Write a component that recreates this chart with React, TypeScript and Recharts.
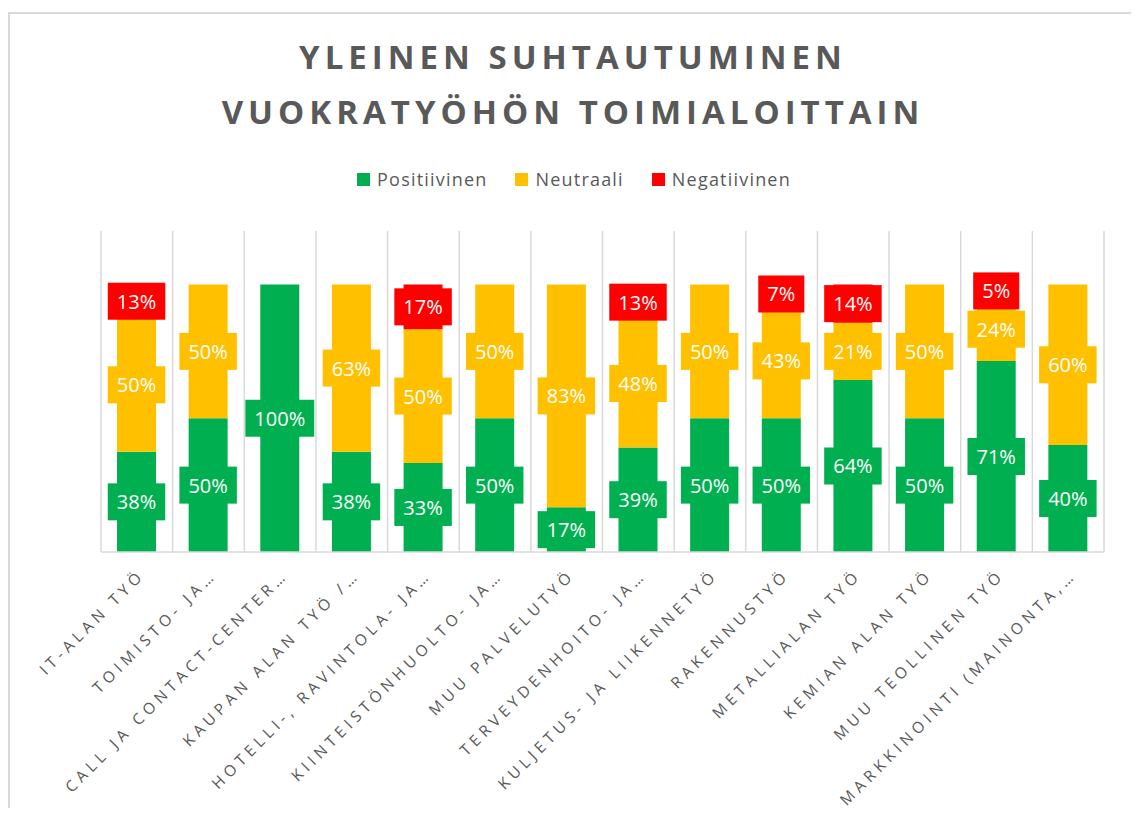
import React from "react";
import { BarChart, Bar, XAxis, YAxis, CartesianGrid, LabelList } from "recharts";

const categories = [
  "IT-ALAN TYÖ",
  "TOIMISTO- JA…",
  "CALL JA CONTACT-CENTER…",
  "KAUPAN ALAN TYÖ /…",
  "HOTELLI-, RAVINTOLA- JA…",
  "KIINTEISTÖNHUOLTO- JA…",
  "MUU PALVELUTYÖ",
  "TERVEYDENHOITO- JA…",
  "KULJETUS- JA LIIKENNETYÖ",
  "RAKENNUSTYÖ",
  "METALLIALAN TYÖ",
  "KEMIAN ALAN TYÖ",
  "MUU TEOLLINEN TYÖ",
  "MARKKINOINTI (MAINONTA,…",
];

const positiivinen = [37.5, 50, 100, 37.5, 33.3, 50, 16.7, 39.1, 50, 50, 64.3, 50, 71.4, 40];
const neutraali = [50, 50, 0, 62.5, 50, 50, 83.3, 47.8, 50, 42.9, 21.4, 50, 23.8, 60];
const negatiivinen = [12.5, 0, 0, 0, 16.7, 0, 0, 13.0, 0, 7.1, 14.3, 0, 4.8, 0];

const series = [
  { key: "pos", name: "Positiivinen", color: "#00B050" },
  { key: "neu", name: "Neutraali", color: "#FFC000" },
  { key: "neg", name: "Negatiivinen", color: "#FF0000" },
];

const data = categories.map((name, i) => ({
  name,
  pos: positiivinen[i],
  neu: neutraali[i],
  neg: negatiivinen[i],
}));

const TEXT = "#595959";
const GRID = "#d9d9d9";
const FONT = "'Open Sans', sans-serif";

// label with a box in the segment colour, wider than the bar
const boxLabel = (color: string) => (props: any) => {
  const { x, y, width, height, value } = props;
  if (!value) return null;
  const text = `${Math.round(value)}%`;
  const fs = 20;
  const digits = text.length - 1;
  const w = digits * 0.572 * fs + 0.83 * fs + 18;
  const h = 37;
  const cx = Number(x) + Number(width) / 2;
  const cy = Number(y) + Number(height) / 2;
  return (
    <g>
      <rect x={cx - w / 2} y={cy - h / 2} width={w} height={h} fill={color} />
      <text
        x={cx}
        y={cy}
        textAnchor="middle"
        dominantBaseline="central"
        fill="#ffffff"
        fontSize={fs}
        fontFamily={FONT}
      >
        {text}
      </text>
    </g>
  );
};

function CategoryTick({ x, y, payload }: any) {
  return (
    <g transform={`translate(${x + 9},${y + 16})`}>
      <text
        x={0}
        y={0}
        textAnchor="end"
        transform="rotate(-45)"
        fill={TEXT}
        fontSize={15.5}
        fontFamily={FONT}
        letterSpacing={4.6}
      >
        {payload.value}
      </text>
    </g>
  );
}

export default function App() {
  return (
    <div
      style={{
        position: "relative",
        top: 4,
        width: 1126,
        height: 800,
        border: `2px solid ${GRID}`,
        borderBottom: "none",
        boxSizing: "border-box",
        fontFamily: FONT,
        background: "#fff",
      }}
    >
      <div
        style={{
          position: "absolute",
          top: 15,
          left: 4,
          right: 0,
          textAlign: "center",
          color: TEXT,
          fontWeight: 700,
          fontSize: 33,
          lineHeight: "55px",
          letterSpacing: 5,
        }}
      >
        <div>YLEINEN SUHTAUTUMINEN</div>
        <div>VUOKRATYÖHÖN TOIMIALOITTAIN</div>
      </div>

      <div
        style={{
          position: "absolute",
          top: 153,
          left: 6,
          right: 0,
          height: 24,
          display: "flex",
          justifyContent: "center",
          alignItems: "center",
          gap: 28,
          color: TEXT,
          fontSize: 18,
          letterSpacing: 1.2,
        }}
      >
        {series.map((s) => (
          <div key={s.key} style={{ display: "flex", alignItems: "center", gap: 7 }}>
            <span style={{ width: 13, height: 13, background: s.color, display: "inline-block" }} />
            <span>{s.name}</span>
          </div>
        ))}
      </div>

      <div style={{ position: "absolute", top: 0, left: 0 }}>
        <BarChart
          width={1122}
          height={806}
          data={data}
          margin={{ top: 217, right: 28, left: 91, bottom: 28 }}
          barSize={39}
        >
          <CartesianGrid
            horizontal={false}
            stroke={GRID}
            strokeWidth={1.5}
            verticalCoordinatesGenerator={({ offset }: any) => {
              const left = offset?.left ?? 91;
              const w = offset?.width ?? 1003;
              return categories.map((_, i) => left + (i * w) / categories.length).concat(left + w);
            }}
          />
          <XAxis
            dataKey="name"
            interval={0}
            height={240}
            tickLine={false}
            axisLine={{ stroke: GRID, strokeWidth: 1.5 }}
            tick={<CategoryTick />}
          />
          <YAxis hide domain={[0, 120]} allowDataOverflow />
          {series.map((s) => (
            <Bar
              key={s.key}
              dataKey={s.key}
              name={s.name}
              stackId="a"
              fill={s.color}
              isAnimationActive={false}
            >
              <LabelList dataKey={s.key} content={boxLabel(s.color)} />
            </Bar>
          ))}
        </BarChart>
      </div>
    </div>
  );
}
